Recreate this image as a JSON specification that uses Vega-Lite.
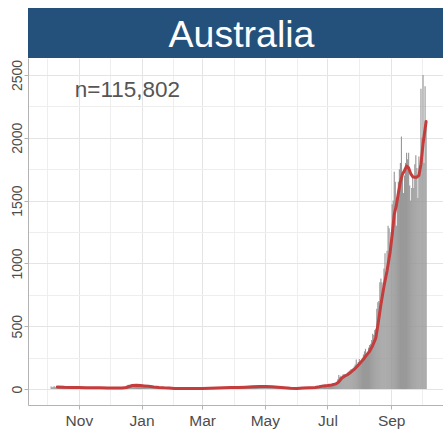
{
  "$schema": "https://vega.github.io/schema/vega-lite/v6.json",
  "padding": {"left": 10, "top": 8, "right": 0, "bottom": 0},
  "background": "white",
  "spacing": 0,
  "config": {"font": "Liberation Sans", "view": {"stroke": null}},
  "datasets": {
    "daily": [
{"d":"2020-10-05","n":20},{"d":"2020-10-06","n":15},{"d":"2020-10-07","n":18},{"d":"2020-10-08","n":22},{"d":"2020-10-09","n":14},{"d":"2020-10-10","n":17},{"d":"2020-10-11","n":16},{"d":"2020-10-12","n":12},{"d":"2020-10-13","n":15},{"d":"2020-10-14","n":19},{"d":"2020-10-15","n":13},{"d":"2020-10-16","n":16},{"d":"2020-10-17","n":14},{"d":"2020-10-18","n":11},{"d":"2020-10-19","n":12},{"d":"2020-10-20","n":15},{"d":"2020-10-21","n":18},{"d":"2020-10-22","n":13},{"d":"2020-10-23","n":10},{"d":"2020-10-24","n":12},{"d":"2020-10-25","n":14},{"d":"2020-10-26","n":9},{"d":"2020-10-27","n":11},{"d":"2020-10-28","n":13},{"d":"2020-10-29","n":10},{"d":"2020-10-30","n":12},{"d":"2020-10-31","n":14},
{"d":"2020-11-01","n":11},{"d":"2020-11-02","n":9},{"d":"2020-11-03","n":10},{"d":"2020-11-04","n":12},{"d":"2020-11-05","n":8},{"d":"2020-11-06","n":13},{"d":"2020-11-07","n":10},{"d":"2020-11-08","n":7},{"d":"2020-11-09","n":9},{"d":"2020-11-10","n":11},{"d":"2020-11-11","n":8},{"d":"2020-11-12","n":10},{"d":"2020-11-13","n":12},{"d":"2020-11-14","n":9},{"d":"2020-11-15","n":7},{"d":"2020-11-16","n":10},{"d":"2020-11-17","n":14},{"d":"2020-11-18","n":8},{"d":"2020-11-19","n":9},{"d":"2020-11-20","n":11},{"d":"2020-11-21","n":7},{"d":"2020-11-22","n":10},{"d":"2020-11-23","n":8},{"d":"2020-11-24","n":12},{"d":"2020-11-25","n":9},{"d":"2020-11-26","n":11},{"d":"2020-11-27","n":8},{"d":"2020-11-28","n":10},{"d":"2020-11-29","n":7},{"d":"2020-11-30","n":9},
{"d":"2020-12-01","n":8},{"d":"2020-12-02","n":6},{"d":"2020-12-03","n":9},{"d":"2020-12-04","n":7},{"d":"2020-12-05","n":10},{"d":"2020-12-06","n":8},{"d":"2020-12-07","n":6},{"d":"2020-12-08","n":9},{"d":"2020-12-09","n":7},{"d":"2020-12-10","n":11},{"d":"2020-12-11","n":8},{"d":"2020-12-12","n":9},{"d":"2020-12-13","n":10},{"d":"2020-12-14","n":7},{"d":"2020-12-15","n":12},{"d":"2020-12-16","n":14},{"d":"2020-12-17","n":22},{"d":"2020-12-18","n":28},{"d":"2020-12-19","n":35},{"d":"2020-12-20","n":32},{"d":"2020-12-21","n":30},{"d":"2020-12-22","n":27},{"d":"2020-12-23","n":33},{"d":"2020-12-24","n":29},{"d":"2020-12-25","n":26},{"d":"2020-12-26","n":31},{"d":"2020-12-27","n":28},{"d":"2020-12-28","n":24},{"d":"2020-12-29","n":27},{"d":"2020-12-30","n":30},{"d":"2020-12-31","n":25},
{"d":"2021-01-01","n":28},{"d":"2021-01-02","n":24},{"d":"2021-01-03","n":22},{"d":"2021-01-04","n":26},{"d":"2021-01-05","n":20},{"d":"2021-01-06","n":23},{"d":"2021-01-07","n":25},{"d":"2021-01-08","n":21},{"d":"2021-01-09","n":19},{"d":"2021-01-10","n":22},{"d":"2021-01-11","n":18},{"d":"2021-01-12","n":16},{"d":"2021-01-13","n":15},{"d":"2021-01-14","n":17},{"d":"2021-01-15","n":13},{"d":"2021-01-16","n":14},{"d":"2021-01-17","n":12},{"d":"2021-01-18","n":11},{"d":"2021-01-19","n":13},{"d":"2021-01-20","n":10},{"d":"2021-01-21","n":9},{"d":"2021-01-22","n":11},{"d":"2021-01-23","n":8},{"d":"2021-01-24","n":10},{"d":"2021-01-25","n":7},{"d":"2021-01-26","n":9},{"d":"2021-01-27","n":6},{"d":"2021-01-28","n":8},{"d":"2021-01-29","n":7},{"d":"2021-01-30","n":5},{"d":"2021-01-31","n":6},
{"d":"2021-02-01","n":4},{"d":"2021-02-02","n":5},{"d":"2021-02-03","n":3},{"d":"2021-02-04","n":6},{"d":"2021-02-05","n":2},{"d":"2021-02-06","n":4},{"d":"2021-02-07","n":5},{"d":"2021-02-08","n":3},{"d":"2021-02-09","n":4},{"d":"2021-02-10","n":6},{"d":"2021-02-11","n":3},{"d":"2021-02-12","n":5},{"d":"2021-02-13","n":4},{"d":"2021-02-14","n":2},{"d":"2021-02-15","n":3},{"d":"2021-02-16","n":5},{"d":"2021-02-17","n":4},{"d":"2021-02-18","n":3},{"d":"2021-02-19","n":6},{"d":"2021-02-20","n":4},{"d":"2021-02-21","n":5},{"d":"2021-02-22","n":3},{"d":"2021-02-23","n":4},{"d":"2021-02-24","n":6},{"d":"2021-02-25","n":5},{"d":"2021-02-26","n":7},{"d":"2021-02-27","n":4},{"d":"2021-02-28","n":6},
{"d":"2021-03-01","n":5},{"d":"2021-03-02","n":7},{"d":"2021-03-03","n":6},{"d":"2021-03-04","n":8},{"d":"2021-03-05","n":5},{"d":"2021-03-06","n":9},{"d":"2021-03-07","n":7},{"d":"2021-03-08","n":6},{"d":"2021-03-09","n":8},{"d":"2021-03-10","n":10},{"d":"2021-03-11","n":7},{"d":"2021-03-12","n":9},{"d":"2021-03-13","n":8},{"d":"2021-03-14","n":11},{"d":"2021-03-15","n":9},{"d":"2021-03-16","n":10},{"d":"2021-03-17","n":8},{"d":"2021-03-18","n":12},{"d":"2021-03-19","n":10},{"d":"2021-03-20","n":9},{"d":"2021-03-21","n":11},{"d":"2021-03-22","n":13},{"d":"2021-03-23","n":10},{"d":"2021-03-24","n":12},{"d":"2021-03-25","n":11},{"d":"2021-03-26","n":9},{"d":"2021-03-27","n":13},{"d":"2021-03-28","n":12},{"d":"2021-03-29","n":14},{"d":"2021-03-30","n":11},{"d":"2021-03-31","n":13},
{"d":"2021-04-01","n":12},{"d":"2021-04-02","n":14},{"d":"2021-04-03","n":11},{"d":"2021-04-04","n":15},{"d":"2021-04-05","n":13},{"d":"2021-04-06","n":12},{"d":"2021-04-07","n":16},{"d":"2021-04-08","n":14},{"d":"2021-04-09","n":13},{"d":"2021-04-10","n":17},{"d":"2021-04-11","n":15},{"d":"2021-04-12","n":14},{"d":"2021-04-13","n":18},{"d":"2021-04-14","n":16},{"d":"2021-04-15","n":17},{"d":"2021-04-16","n":19},{"d":"2021-04-17","n":18},{"d":"2021-04-18","n":20},{"d":"2021-04-19","n":17},{"d":"2021-04-20","n":21},{"d":"2021-04-21","n":19},{"d":"2021-04-22","n":22},{"d":"2021-04-23","n":20},{"d":"2021-04-24","n":23},{"d":"2021-04-25","n":21},{"d":"2021-04-26","n":24},{"d":"2021-04-27","n":22},{"d":"2021-04-28","n":25},{"d":"2021-04-29","n":23},{"d":"2021-04-30","n":20},
{"d":"2021-05-01","n":22},{"d":"2021-05-02","n":24},{"d":"2021-05-03","n":19},{"d":"2021-05-04","n":21},{"d":"2021-05-05","n":18},{"d":"2021-05-06","n":20},{"d":"2021-05-07","n":17},{"d":"2021-05-08","n":16},{"d":"2021-05-09","n":15},{"d":"2021-05-10","n":17},{"d":"2021-05-11","n":14},{"d":"2021-05-12","n":13},{"d":"2021-05-13","n":12},{"d":"2021-05-14","n":14},{"d":"2021-05-15","n":11},{"d":"2021-05-16","n":10},{"d":"2021-05-17","n":12},{"d":"2021-05-18","n":9},{"d":"2021-05-19","n":8},{"d":"2021-05-20","n":10},{"d":"2021-05-21","n":7},{"d":"2021-05-22","n":8},{"d":"2021-05-23","n":6},{"d":"2021-05-24","n":5},{"d":"2021-05-25","n":7},{"d":"2021-05-26","n":5},{"d":"2021-05-27","n":4},{"d":"2021-05-28","n":6},{"d":"2021-05-29","n":5},{"d":"2021-05-30","n":4},{"d":"2021-05-31","n":6},
{"d":"2021-06-01","n":5},{"d":"2021-06-02","n":7},{"d":"2021-06-03","n":6},{"d":"2021-06-04","n":8},{"d":"2021-06-05","n":9},{"d":"2021-06-06","n":7},{"d":"2021-06-07","n":10},{"d":"2021-06-08","n":8},{"d":"2021-06-09","n":9},{"d":"2021-06-10","n":11},{"d":"2021-06-11","n":10},{"d":"2021-06-12","n":8},{"d":"2021-06-13","n":12},{"d":"2021-06-14","n":9},{"d":"2021-06-15","n":11},{"d":"2021-06-16","n":10},{"d":"2021-06-17","n":13},{"d":"2021-06-18","n":12},{"d":"2021-06-19","n":14},{"d":"2021-06-20","n":16},{"d":"2021-06-21","n":18},{"d":"2021-06-22","n":21},{"d":"2021-06-23","n":24},{"d":"2021-06-24","n":27},{"d":"2021-06-25","n":30},{"d":"2021-06-26","n":28},{"d":"2021-06-27","n":32},{"d":"2021-06-28","n":35},{"d":"2021-06-29","n":31},{"d":"2021-06-30","n":33},
{"d":"2021-07-01","n":28},{"d":"2021-07-02","n":32},{"d":"2021-07-03","n":30},{"d":"2021-07-04","n":35},{"d":"2021-07-05","n":27},{"d":"2021-07-06","n":33},{"d":"2021-07-07","n":38},{"d":"2021-07-08","n":42},{"d":"2021-07-09","n":45},{"d":"2021-07-10","n":50},{"d":"2021-07-11","n":78},{"d":"2021-07-12","n":112},{"d":"2021-07-13","n":96},{"d":"2021-07-14","n":105},{"d":"2021-07-15","n":88},{"d":"2021-07-16","n":115},{"d":"2021-07-17","n":120},{"d":"2021-07-18","n":118},{"d":"2021-07-19","n":110},{"d":"2021-07-20","n":103},{"d":"2021-07-21","n":135},{"d":"2021-07-22","n":142},{"d":"2021-07-23","n":150},{"d":"2021-07-24","n":160},{"d":"2021-07-25","n":158},{"d":"2021-07-26","n":168},{"d":"2021-07-27","n":180},{"d":"2021-07-28","n":195},{"d":"2021-07-29","n":235},{"d":"2021-07-30","n":190},{"d":"2021-07-31","n":215},
{"d":"2021-08-01","n":240},{"d":"2021-08-02","n":210},{"d":"2021-08-03","n":225},{"d":"2021-08-04","n":250},{"d":"2021-08-05","n":275},{"d":"2021-08-06","n":300},{"d":"2021-08-07","n":320},{"d":"2021-08-08","n":270},{"d":"2021-08-09","n":290},{"d":"2021-08-10","n":330},{"d":"2021-08-11","n":350},{"d":"2021-08-12","n":360},{"d":"2021-08-13","n":390},{"d":"2021-08-14","n":440},{"d":"2021-08-15","n":430},{"d":"2021-08-16","n":470},{"d":"2021-08-17","n":480},{"d":"2021-08-18","n":640},{"d":"2021-08-19","n":690},{"d":"2021-08-20","n":700},{"d":"2021-08-21","n":850},{"d":"2021-08-22","n":880},{"d":"2021-08-23","n":850},{"d":"2021-08-24","n":800},{"d":"2021-08-25","n":960},{"d":"2021-08-26","n":1080},{"d":"2021-08-27","n":920},{"d":"2021-08-28","n":1100},{"d":"2021-08-29","n":1300},{"d":"2021-08-30","n":1280},{"d":"2021-08-31","n":1160},
{"d":"2021-09-01","n":1250},{"d":"2021-09-02","n":1470},{"d":"2021-09-03","n":1500},{"d":"2021-09-04","n":1730},{"d":"2021-09-05","n":1650},{"d":"2021-09-06","n":1300},{"d":"2021-09-07","n":1480},{"d":"2021-09-08","n":1650},{"d":"2021-09-09","n":1750},{"d":"2021-09-10","n":1800},{"d":"2021-09-11","n":2010},{"d":"2021-09-12","n":1700},{"d":"2021-09-13","n":1560},{"d":"2021-09-14","n":1700},{"d":"2021-09-15","n":1800},{"d":"2021-09-16","n":1880},{"d":"2021-09-17","n":1830},{"d":"2021-09-18","n":1880},{"d":"2021-09-19","n":1620},{"d":"2021-09-20","n":1500},{"d":"2021-09-21","n":1600},{"d":"2021-09-22","n":1690},{"d":"2021-09-23","n":1600},{"d":"2021-09-24","n":1790},{"d":"2021-09-25","n":1860},{"d":"2021-09-26","n":1760},{"d":"2021-09-27","n":1520},{"d":"2021-09-28","n":1850},{"d":"2021-09-29","n":1750},{"d":"2021-09-30","n":2390},
{"d":"2021-10-01","n":2000},{"d":"2021-10-02","n":2500},{"d":"2021-10-03","n":1800},{"d":"2021-10-04","n":2410},{"d":"2021-10-05","n":2120}
    ],
    "avg": [
{"d":"2020-10-11","a":17},{"d":"2020-10-18","a":14},{"d":"2020-10-25","a":13},{"d":"2020-11-01","a":12},{"d":"2020-11-08","a":10},{"d":"2020-11-15","a":10},{"d":"2020-11-22","a":10},{"d":"2020-11-29","a":9},{"d":"2020-12-06","a":8},{"d":"2020-12-13","a":9},{"d":"2020-12-17","a":12},{"d":"2020-12-20","a":20},{"d":"2020-12-23","a":28},{"d":"2020-12-27","a":30},{"d":"2020-12-31","a":28},{"d":"2021-01-04","a":25},{"d":"2021-01-08","a":22},{"d":"2021-01-13","a":17},{"d":"2021-01-18","a":13},{"d":"2021-01-23","a":10},{"d":"2021-01-28","a":8},{"d":"2021-02-02","a":5},{"d":"2021-02-08","a":4},{"d":"2021-02-15","a":4},{"d":"2021-02-22","a":4},{"d":"2021-03-01","a":5},{"d":"2021-03-08","a":7},{"d":"2021-03-15","a":9},{"d":"2021-03-22","a":11},{"d":"2021-03-29","a":12},{"d":"2021-04-05","a":13},{"d":"2021-04-12","a":15},{"d":"2021-04-19","a":18},{"d":"2021-04-26","a":21},{"d":"2021-05-02","a":21},{"d":"2021-05-08","a":18},{"d":"2021-05-14","a":14},{"d":"2021-05-20","a":10},{"d":"2021-05-26","a":6},{"d":"2021-06-01","a":5},{"d":"2021-06-07","a":8},{"d":"2021-06-13","a":10},{"d":"2021-06-19","a":13},{"d":"2021-06-23","a":18},{"d":"2021-06-27","a":25},{"d":"2021-07-01","a":28},{"d":"2021-07-05","a":32},{"d":"2021-07-09","a":41},{"d":"2021-07-12","a":57},{"d":"2021-07-15","a":88},{"d":"2021-07-18","a":104},{"d":"2021-07-21","a":117},{"d":"2021-07-24","a":136},{"d":"2021-07-27","a":156},{"d":"2021-07-30","a":182},{"d":"2021-08-02","a":210},{"d":"2021-08-05","a":237},{"d":"2021-08-08","a":270},{"d":"2021-08-11","a":301},{"d":"2021-08-14","a":347},{"d":"2021-08-17","a":405},{"d":"2021-08-19","a":506},{"d":"2021-08-22","a":673},{"d":"2021-08-25","a":819},{"d":"2021-08-28","a":941},{"d":"2021-08-31","a":1090},{"d":"2021-09-02","a":1230},{"d":"2021-09-04","a":1390},{"d":"2021-09-06","a":1460},{"d":"2021-09-08","a":1560},{"d":"2021-09-10","a":1650},{"d":"2021-09-12","a":1710},{"d":"2021-09-14","a":1740},{"d":"2021-09-16","a":1775},{"d":"2021-09-18","a":1760},{"d":"2021-09-20","a":1715},{"d":"2021-09-22","a":1690},{"d":"2021-09-24","a":1685},{"d":"2021-09-26","a":1686},{"d":"2021-09-28","a":1700},{"d":"2021-09-30","a":1790},{"d":"2021-10-02","a":1950},{"d":"2021-10-04","a":2070},{"d":"2021-10-05","a":2130}
    ]
  },
  "vconcat": [
    {
      "width": 415,
      "height": 50,
      "view": {"fill": "#23517c", "stroke": null},
      "data": {"values": [{"label": "Australia"}]},
      "mark": {"type": "text", "fontSize": 37.5, "color": "white", "baseline": "alphabetic", "align": "center", "dy": 13.5, "dx": 6},
      "encoding": {"text": {"field": "label"}}
    },
    {
      "width": 415,
      "height": 347,
      "resolve": {"axis": {"x": "independent", "y": "independent"}},
      "layer": [
        {
          "data": {"name": "avg"},
          "mark": {"type": "line", "opacity": 0, "strokeWidth": 0},
          "encoding": {
            "x": {
              "field": "d", "type": "temporal",
              "scale": {"type": "utc", "domain": [1600329600000, 1634392800000]},
              "axis": {
                "orient": "top", "title": null, "labels": false, "ticks": false, "domain": false,
                "grid": true, "gridColor": "#eeeeee", "minExtent": 0, "maxExtent": 0,
                "values": [1601510400000, 1606780800000, 1612137600000, 1617235200000, 1622505600000, 1627776000000, 1633046400000]
              }
            },
            "y": {
              "field": "a", "type": "quantitative",
              "scale": {"domain": [-127, 2635], "nice": false, "zero": false},
              "axis": {
                "orient": "right", "title": null, "labels": false, "ticks": false, "domain": false,
                "grid": true, "gridColor": "#eeeeee", "minExtent": 0, "maxExtent": 0,
                "values": [250, 750, 1250, 1750, 2250]
              }
            }
          }
        },
        {
          "data": {"name": "daily"},
          "mark": {"type": "bar", "color": "#999999", "width": 1.15},
          "encoding": {
            "x": {
              "field": "d", "type": "temporal",
              "axis": {
                "orient": "bottom",
                "title": null,
                "values": [1604188800000, 1609459200000, 1614556800000, 1619827200000, 1625097600000, 1630454400000],
                "labelExpr": "utcFormat(datum.value, '%b')",
                "labelOverlap": false,
                "labelFlush": false,
                "labelFontSize": 15.5,
                "labelColor": "#4d4d4d",
                "labelPadding": 4,
                "tickSize": 4,
                "tickColor": "#b3b3b3",
                "domainColor": "#b3b3b3",
                "grid": true,
                "gridColor": "#e4e4e4"
              }
            },
            "y": {
              "field": "n", "type": "quantitative",
              "axis": {
                "orient": "left",
                "title": null,
                "values": [0, 500, 1000, 1500, 2000, 2500],
                "format": "d",
                "labelAngle": -90,
                "labelAlign": "center",
                "labelBaseline": "alphabetic",
                "labelFontSize": 14,
                "labelColor": "#4d4d4d",
                "labelPadding": 3,
                "labelOverlap": false,
                "labelFlush": false,
                "minExtent": 0,
                "tickSize": 4,
                "tickColor": "#b3b3b3",
                "domainColor": "#b3b3b3",
                "grid": true,
                "gridColor": "#e4e4e4"
              }
            }
          }
        },
        {
          "data": {"name": "avg"},
          "mark": {"type": "line", "color": "#c43c3c", "strokeWidth": 3, "strokeCap": "round", "strokeJoin": "round"},
          "encoding": {
            "x": {"field": "d", "type": "temporal", "axis": null},
            "y": {"field": "a", "type": "quantitative", "axis": null}
          }
        },
        {
          "data": {"values": [{"d": "2020-10-28", "y": 2327, "label": "n=115,802"}]},
          "mark": {"type": "text", "align": "left", "baseline": "alphabetic", "fontSize": 22.5, "color": "#555555"},
          "encoding": {
            "x": {"field": "d", "type": "temporal", "axis": null},
            "y": {"field": "y", "type": "quantitative", "axis": null},
            "text": {"field": "label"}
          }
        }
      ]
    }
  ]
}
